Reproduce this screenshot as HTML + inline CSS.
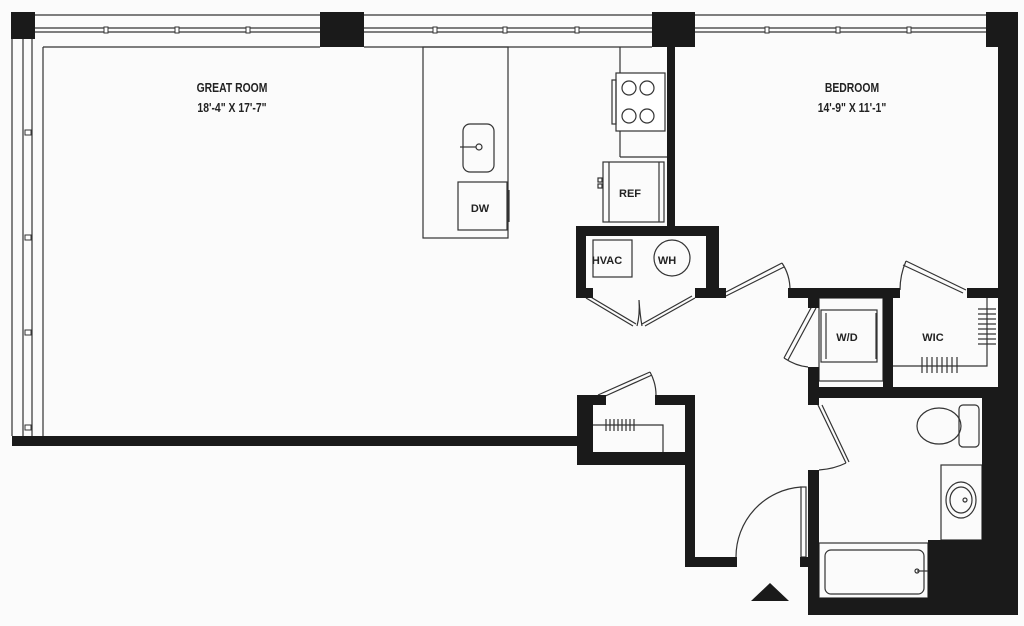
<!DOCTYPE html>
<html><head><meta charset="utf-8"><style>
html,body{margin:0;padding:0;background:#fff;}
svg{display:block;}
text{font-family:"Liberation Sans",sans-serif;fill:#222;}
</style></head><body>
<svg width="1024" height="626" viewBox="0 0 1024 626" xmlns="http://www.w3.org/2000/svg">
<rect width="1024" height="626" fill="#fbfbfb"/>
<g fill="none" stroke="#333" stroke-width="1.2">
  <line x1="35" y1="15" x2="986" y2="15"/>
  <line x1="35" y1="28" x2="320" y2="28"/><line x1="35" y1="32" x2="320" y2="32"/>
  <line x1="364" y1="28" x2="652" y2="28"/><line x1="364" y1="32" x2="652" y2="32"/>
  <line x1="695" y1="28" x2="986" y2="28"/><line x1="695" y1="32" x2="986" y2="32"/>
  <line x1="12" y1="38" x2="12" y2="436"/>
  <line x1="23" y1="38" x2="23" y2="436"/><line x1="32" y1="38" x2="32" y2="436"/>
  <line x1="43" y1="47" x2="43" y2="436"/>
  <line x1="43" y1="47" x2="320" y2="47"/><line x1="364" y1="47" x2="652" y2="47"/>
  <rect x="423" y="47" width="85" height="191"/>
  <rect x="463" y="124" width="31" height="48" rx="7"/>
  <circle cx="479" cy="147" r="3"/>
  <line x1="460" y1="147" x2="476" y2="147"/>
  <rect x="458" y="182" width="49" height="48"/>
  <line x1="509" y1="190" x2="509" y2="222"/>
  <line x1="620" y1="47" x2="620" y2="157"/><line x1="620" y1="157" x2="667" y2="157"/>
  <rect x="616" y="73" width="49" height="58" fill="#fff"/>
  <rect x="612" y="80" width="4" height="44"/>
  <circle cx="629" cy="88" r="7"/><circle cx="647" cy="88" r="7"/>
  <circle cx="629" cy="116" r="7"/><circle cx="647" cy="116" r="7"/>
  <rect x="603" y="162" width="61" height="60"/>
  <line x1="609" y1="162" x2="609" y2="222"/><line x1="659" y1="162" x2="659" y2="222"/>
  <rect x="598" y="178" width="4" height="4"/><rect x="598" y="184" width="4" height="4"/>
  <rect x="593" y="240" width="39" height="37"/>
  <circle cx="672" cy="258" r="18"/>
  <path d="M586 298 L633 326 M589 296 L636 324"/>
  <path d="M645 326 L695 298 M642 324 L692 296"/>
  <path d="M639 300 Q640 315 637 326 M639 300 Q640 315 642 326"/>
  <path d="M726 292 L782 263 M726 296 L784 267"/>
  <path d="M782 263 Q790 275 790 290"/>
  <path d="M906 261 L966 290 M903 265 L963 293"/>
  <path d="M906 261 Q900 275 900 290"/>
  <rect x="819" y="298" width="64" height="83"/>
  <rect x="821" y="310" width="56" height="52"/>
  <line x1="826" y1="313" x2="826" y2="359"/><line x1="876" y1="313" x2="876" y2="359"/>
  <path d="M812 306 L784 358 M816 308 L788 360"/>
  <path d="M784 358 Q796 366 808 367"/>
  <path d="M893 366 L987 366 L987 298"/>
  <path d="M922 357 V373 M927 357 V373 M932 357 V373 M937 357 V373 M942 357 V373 M947 357 V373 M952 357 V373 M957 357 V373"/>
  <path d="M978 309 H996 M978 314 H996 M978 319 H996 M978 324 H996 M978 329 H996 M978 334 H996 M978 339 H996 M978 344 H996"/>
  <path d="M818 405 L846 463 M822 405 L849 462"/>
  <path d="M846 463 Q834 469 819 470"/>
  <rect x="959" y="405" width="20" height="42" rx="4"/>
  <ellipse cx="939" cy="426" rx="22" ry="18"/>
  <rect x="941" y="465" width="41" height="75"/>
  <ellipse cx="961" cy="500" rx="15" ry="18"/><ellipse cx="961" cy="500" rx="11" ry="13"/>
  <circle cx="965" cy="500" r="2"/>
  <rect x="819" y="543" width="109" height="55"/>
  <rect x="825" y="550" width="99" height="44" rx="6"/>
  <line x1="917" y1="571" x2="928" y2="571"/><circle cx="917" cy="571" r="2"/>
  <rect x="801" y="487" width="5" height="70"/>
  <path d="M801 487 A70 70 0 0 0 736 557"/>
  <path d="M598 395 L650 372 M601 398 L652 375"/>
  <path d="M650 372 Q656 383 656 395"/>
  <path d="M593 425 L663 425 L663 452"/>
  <path d="M606 419 V431 M610 419 V431 M614 419 V431 M618 419 V431 M622 419 V431 M626 419 V431 M630 419 V431 M634 419 V431"/>
</g>
<g fill="#fff" stroke="#333" stroke-width="1">
  <rect x="104" y="27" width="4" height="6"/><rect x="175" y="27" width="4" height="6"/><rect x="246" y="27" width="4" height="6"/>
  <rect x="433" y="27" width="4" height="6"/><rect x="503" y="27" width="4" height="6"/><rect x="575" y="27" width="4" height="6"/>
  <rect x="765" y="27" width="4" height="6"/><rect x="836" y="27" width="4" height="6"/><rect x="907" y="27" width="4" height="6"/>
  <rect x="25" y="130" width="6" height="5"/><rect x="25" y="235" width="6" height="5"/><rect x="25" y="330" width="6" height="5"/><rect x="25" y="425" width="6" height="5"/>
</g>
<g fill="#1a1a1a">
  <rect x="11" y="12" width="24" height="27"/>
  <rect x="320" y="12" width="44" height="35"/>
  <rect x="652" y="12" width="43" height="35"/>
  <rect x="986" y="12" width="32" height="35"/>
  <rect x="998" y="12" width="20" height="603"/>
  <rect x="667" y="47" width="8" height="181"/>
  <rect x="576" y="226" width="143" height="10"/>
  <rect x="576" y="226" width="10" height="72"/>
  <rect x="706" y="226" width="13" height="72"/>
  <rect x="576" y="288" width="17" height="10"/>
  <rect x="695" y="288" width="31" height="10"/>
  <rect x="788" y="288" width="112" height="10"/>
  <rect x="967" y="288" width="31" height="10"/>
  <rect x="808" y="298" width="11" height="10"/>
  <rect x="808" y="367" width="11" height="38"/>
  <rect x="883" y="298" width="10" height="89"/>
  <rect x="808" y="387" width="190" height="11"/>
  <rect x="982" y="387" width="36" height="228"/>
  <rect x="928" y="540" width="54" height="58"/>
  <rect x="808" y="470" width="11" height="145"/>
  <rect x="808" y="598" width="210" height="17"/>
  <rect x="800" y="557" width="8" height="10"/>
  <rect x="685" y="395" width="10" height="172"/>
  <rect x="685" y="557" width="52" height="10"/>
  <rect x="577" y="395" width="16" height="70"/>
  <rect x="577" y="395" width="29" height="10"/>
  <rect x="655" y="395" width="40" height="10"/>
  <rect x="577" y="452" width="118" height="13"/>
  <rect x="12" y="436" width="566" height="10"/>
  <polygon points="751,601 789,601 770,583"/>
</g>
<g font-size="13" font-weight="bold" text-anchor="middle">
  <text x="232" y="92" transform="translate(232 0) scale(0.8 1) translate(-232 0)">GREAT ROOM</text>
  <text x="232" y="112" transform="translate(232 0) scale(0.8 1) translate(-232 0)">18'-4" X 17'-7"</text>
  <text x="852" y="92" transform="translate(852 0) scale(0.8 1) translate(-852 0)">BEDROOM</text>
  <text x="852" y="112" transform="translate(852 0) scale(0.8 1) translate(-852 0)">14'-9" X 11'-1"</text>
  <text x="480" y="212" font-size="11">DW</text>
  <text x="630" y="197" font-size="11">REF</text>
  <text x="607" y="264" font-size="11">HVAC</text>
  <text x="667" y="264" font-size="11">WH</text>
  <text x="847" y="341" font-size="11">W/D</text>
  <text x="933" y="341" font-size="11">WIC</text>
</g>
</svg>
</body></html>
